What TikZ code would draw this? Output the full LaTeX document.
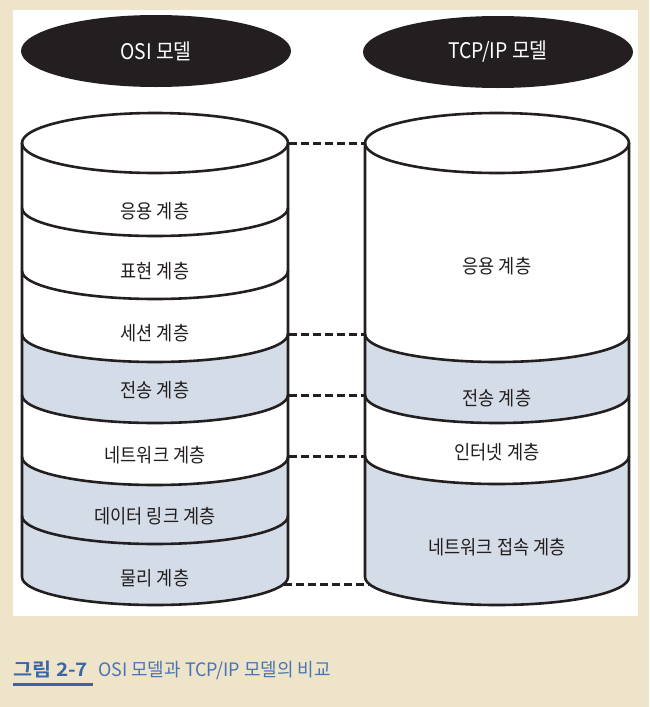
\documentclass[tikz,border=0pt]{standalone}
\usepackage{fontspec}
\setmainfont{Noto Sans CJK KR}
\newfontfamily\kr[FakeStretch=0.9]{Noto Sans CJK KR}
\newfontfamily\krhead[FakeStretch=0.9]{Noto Sans CJK KR}
\newfontfamily\krcap[FakeStretch=0.97]{Noto Sans CJK KR}
\newfontfamily\krcapb[FakeStretch=1.12]{Noto Sans CJK KR Bold}
\usetikzlibrary{shapes.geometric}
\definecolor{bgbeige}{HTML}{EDE4C9}
\definecolor{ink}{HTML}{231F20}
\definecolor{layerblue}{HTML}{D4DDE7}
\definecolor{capblue}{HTML}{4A74B4}
\definecolor{capbold}{HTML}{3A66A8}
\tikzset{
  outline/.style={draw=ink, line width=2.6pt, line join=round, line cap=round},
  headshape/.style={ellipse, fill=ink, text=white, minimum width=270pt, minimum height=72pt, inner sep=0pt, font=\krhead\fontsize{21.5}{24}\selectfont},
  layerlabel/.style={inner sep=0pt, text=ink, font=\kr\fontsize{19.5}{22}\selectfont},
  linkdash/.style={draw=ink, line width=3pt, dash pattern=on 8pt off 4pt},
}
% fill from the cylinder top down to a lower arc at level #5
\newcommand\colfill[6]{\fill[#1] ({#2-#3},#4) -- ({#2-#3},#5) arc[start angle=180,end angle=0,x radius=#3,y radius=#6] -- ({#2+#3},#4) -- cycle;}
\newcommand\seplin[4]{\draw[outline] ({#1-#2},#3) arc[start angle=180,end angle=0,x radius=#2,y radius=#4];}
\begin{document}
\begin{tikzpicture}[x=1pt,y=-1pt]
\useasboundingbox (0,0) rectangle (649,707);
\fill[bgbeige] (0,0) rectangle (649,707);
\fill[white] (13,10) rectangle (638,616);

% headers
\node[headshape] (osihead) at (156,51) {OSI 모델};
\node[headshape] (tcphead) at (498,52) {TCP/IP 모델};

% ---------- OSI cylinder ----------
\colfill{layerblue}{155}{133}{143}{577}{28}
\colfill{layerblue}{155}{133}{143}{516}{28}
\colfill{white}{155}{133}{143}{457}{28}
\colfill{layerblue}{155}{133}{143}{395}{28}
\colfill{white}{155}{133}{143}{334}{28}
\draw[outline, fill=white] (155,143) ellipse[x radius=133, y radius=30];
\seplin{155}{133}{208}{28}
\seplin{155}{133}{271}{28}
\seplin{155}{133}{334}{28}
\seplin{155}{133}{395}{28}
\seplin{155}{133}{457}{28}
\seplin{155}{133}{516}{28}
\draw[outline] (22,143) -- (22,577) arc[start angle=180,end angle=0,x radius=133,y radius=28] -- (288,143);

\node[layerlabel] (osi7) at (155,211) {응용 계층};
\node[layerlabel] (osi6) at (155,271) {표현 계층};
\node[layerlabel] (osi5) at (155,333) {세션 계층};
\node[layerlabel] (osi4) at (155,390) {전송 계층};
\node[layerlabel] (osi3) at (155,455) {네트워크 계층};
\node[layerlabel] (osi2) at (155,516) {데이터 링크 계층};
\node[layerlabel] (osi1) at (155,578) {물리 계층};

% ---------- TCP/IP cylinder ----------
\colfill{layerblue}{497}{132}{143}{577}{28}
\colfill{white}{497}{132}{143}{456}{28}
\colfill{layerblue}{497}{132}{143}{395}{28}
\colfill{white}{497}{132}{143}{334}{28}
\draw[outline, fill=white] (497,143) ellipse[x radius=132, y radius=30];
\seplin{497}{132}{334}{28}
\seplin{497}{132}{395}{28}
\seplin{497}{132}{456}{28}
\draw[outline] (365,143) -- (365,577) arc[start angle=180,end angle=0,x radius=132,y radius=28] -- (629,143);

\node[layerlabel] (tcp4) at (497,266) {응용 계층};
\node[layerlabel] (tcp3) at (497,398) {전송 계층};
\node[layerlabel] (tcp2) at (497,452) {인터넷 계층};
\node[layerlabel] (tcp1) at (497,547) {네트워크 접속 계층};

% ---------- connectors ----------
\coordinate (oa) at (289,143);  \coordinate (ta) at (364,143);
\coordinate (ob) at (289,334);  \coordinate (tb) at (364,334);
\coordinate (oc) at (289,395);  \coordinate (tc) at (364,395);
\coordinate (od) at (289,456);  \coordinate (td) at (364,456);
\coordinate (oe) at (284,584);  \coordinate (te) at (369,584);
\draw[linkdash] (oa) -- (ta);
\draw[linkdash] (ob) -- (tb);
\draw[linkdash] (oc) -- (tc);
\draw[linkdash] (od) -- (td);
\draw[linkdash] (oe) -- (te);

% ---------- caption ----------
\node[anchor=base west, inner sep=0pt, text=capbold, font=\krcapb\fontsize{18.5}{21}\selectfont] (capnum) at (13,676) {그림 2-7};
\node[anchor=base west, inner sep=0pt, text=capblue, font=\krcap\fontsize{18.5}{21}\selectfont] (captext) at (98,676) {OSI 모델과 TCP/IP 모델의 비교};
\draw[capbold, line width=3pt] (13,684.5) -- (93,684.5);
\end{tikzpicture}
\end{document}
